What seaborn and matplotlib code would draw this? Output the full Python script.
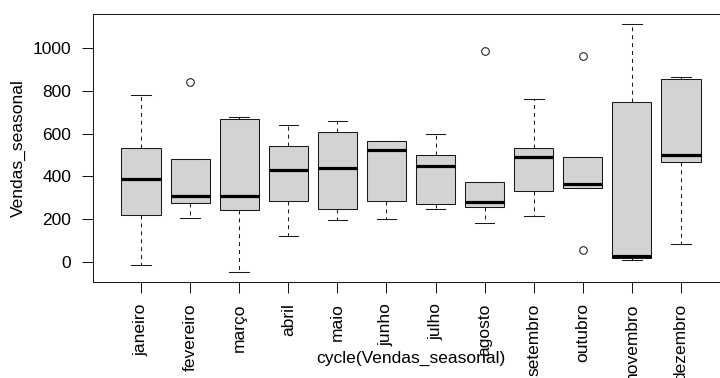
import pandas as pd
import matplotlib
matplotlib.use('Agg')
import matplotlib.pyplot as plt
import seaborn as sns

# meses do ciclo sazonal
meses = ['janeiro', 'fevereiro', 'março', 'abril', 'maio', 'junho',
         'julho', 'agosto', 'setembro', 'outubro', 'novembro', 'dezembro']

# vendas por mês (5 anos)
janeiro = [-14, 220, 387, 534, 779]
fevereiro = [208, 275, 309, 483, 842]
marco = [-47, 242, 309, 666, 675]
abril = [121, 284, 429, 542, 641]
maio = [199, 250, 441, 607, 658]
junho = [203, 284, 525, 567, 567]
julho = [250, 270, 450, 500, 596]
agosto = [183, 258, 283, 374, 984]
setembro = [216, 332, 489, 534, 762]
outubro = [56, 346, 366, 489, 960]
novembro = [12, 22, 28, 745, 1112]
dezembro = [87, 466, 500, 854, 863]

valores = [janeiro, fevereiro, marco, abril, maio, junho,
           julho, agosto, setembro, outubro, novembro, dezembro]
df = pd.DataFrame([(m, v) for m, vs in zip(meses, valores) for v in vs],
                  columns=['mes', 'vendas'])

plt.rcParams['font.family'] = ['Liberation Sans', 'DejaVu Sans']
plt.rcParams['font.size'] = 12.5

fig = plt.figure(figsize=(7.2, 3.78), dpi=100)
ax = fig.add_axes([93 / 720, (378 - 282.3) / 378, (729 - 93) / 720, (282.3 - 13.7) / 378])

lw = 0.75
sns.boxplot(data=df, x='mes', y='vendas', order=meses, ax=ax,
            color='#d3d3d3', linecolor='#1a1a1a', saturation=1, width=0.8,
            whis=1.5, linewidth=lw,
            medianprops=dict(color='black', linewidth=2.3),
            whiskerprops=dict(linestyle=(0, (3.8, 3.8)), linewidth=lw),
            capprops=dict(linewidth=lw),
            flierprops=dict(marker='o', markersize=5.5, markerfacecolor='none',
                            markeredgecolor='#1a1a1a', markeredgewidth=lw))

ax.set_xlim(-0.98, 11.98)
ax.set_ylim(-93.4, 1158.4)
ax.set_yticks([0, 200, 400, 600, 800, 1000])
ax.tick_params(axis='both', length=7.9, width=lw, color='#1a1a1a')
ax.tick_params(axis='x', pad=7.2, labelrotation=90)
ax.tick_params(axis='y', pad=7.9)
for s in ax.spines.values():
    s.set_linewidth(lw)
    s.set_color('#1a1a1a')

ax.set_ylabel('Vendas_seasonal', va='center')
ax.yaxis.set_label_coords((18.5 - 93) / 636, 0.5)
ax.set_xlabel('cycle(Vendas_seasonal)', va='center')
ax.xaxis.set_label_coords(0.5, (282.3 - 358) / 268.6)

fig.savefig('out.png', dpi=100)
